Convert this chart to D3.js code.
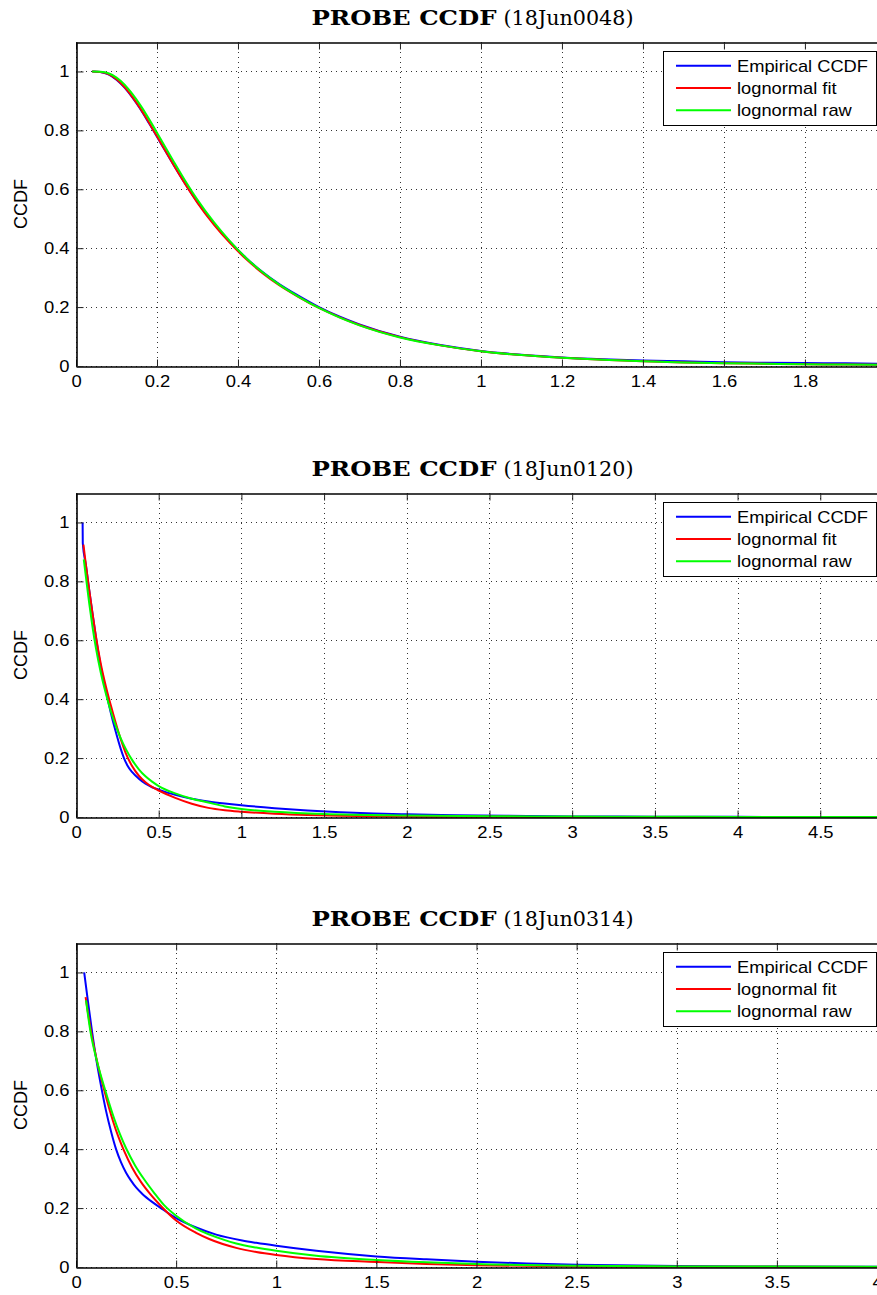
<!DOCTYPE html>
<html><head><meta charset="utf-8">
<script src="https://cdn.jsdelivr.net/npm/d3@7"></script>
<style>body{margin:0;background:#fff}svg{display:block}</style>
</head><body>
<svg id="c" width="877" height="1295"></svg>
<script>
// ---------- DATA ----------
const titlesBold = ["PROBE CCDF", "PROBE CCDF", "PROBE CCDF"];
const titlesRest = ["(18Jun0048)", "(18Jun0120)", "(18Jun0314)"];
const seriesNames = ["Empirical CCDF", "lognormal fit", "lognormal raw"];
const seriesColors = ["#0000ff", "#ff0000", "#00ff00"];
const yLabel = "CCDF";
const yTicks = [0, 0.2, 0.4, 0.6, 0.8, 1];
const yMax = 1.1;

const xMax1 = 1.978;
const xTicks1 = [0, 0.2, 0.4, 0.6, 0.8, 1, 1.2, 1.4, 1.6, 1.8];
const x1 = [0.04,0.06,0.08,0.10,0.12,0.14,0.16,0.18,0.21,0.24,0.27,0.30,0.34,0.38,0.42,0.46,0.50,0.55,0.60,0.65,0.70,0.80,0.90,1.00,1.10,1.20,1.30,1.40,1.50,1.60,1.70,1.80,1.90,1.978];
const blue1 = [1.0,0.998,0.99,0.972,0.945,0.91,0.87,0.825,0.755,0.685,0.618,0.556,0.484,0.422,0.367,0.32,0.28,0.238,0.2,0.168,0.141,0.099,0.071,0.051,0.038,0.029,0.023,0.019,0.016,0.013,0.011,0.010,0.009,0.008];
const red1 = [1.0,0.998,0.991,0.974,0.947,0.912,0.872,0.827,0.756,0.685,0.617,0.554,0.481,0.418,0.363,0.316,0.276,0.234,0.197,0.166,0.139,0.098,0.07,0.05,0.037,0.028,0.021,0.016,0.012,0.0095,0.0075,0.006,0.005,0.004];
const green1 = [1.0,0.999,0.994,0.979,0.955,0.922,0.883,0.839,0.768,0.697,0.628,0.564,0.489,0.424,0.367,0.319,0.278,0.235,0.197,0.165,0.138,0.097,0.07,0.05,0.037,0.028,0.021,0.016,0.012,0.0095,0.0075,0.006,0.005,0.004];

const xMax2 = 4.843;
const xTicks2 = [0, 0.5, 1, 1.5, 2, 2.5, 3, 3.5, 4, 4.5];
const x2b = [0.04,0.041,0.06,0.08,0.10,0.12,0.15,0.18,0.21,0.24,0.27,0.29,0.31,0.34,0.38,0.42,0.46,0.50,0.60,0.70,0.80,0.90,1.0,1.2,1.4,1.6,1.8,2.0,2.3,2.6,3.0,3.5,4.0,4.843];
const blue2 = [1.0,0.93,0.855,0.77,0.69,0.612,0.51,0.43,0.355,0.29,0.232,0.20,0.176,0.152,0.13,0.113,0.101,0.093,0.075,0.062,0.053,0.046,0.040,0.030,0.022,0.016,0.012,0.009,0.006,0.004,0.002,0.001,0.0005,0.0001];
const x2r = [0.045,0.06,0.08,0.10,0.12,0.15,0.18,0.21,0.24,0.27,0.30,0.34,0.38,0.42,0.46,0.50,0.60,0.70,0.80,0.90,1.0,1.2,1.4,1.6,1.8,2.0,2.5,3.0,4.0,4.843];
const red2 = [0.925,0.855,0.77,0.69,0.615,0.52,0.445,0.38,0.32,0.265,0.218,0.172,0.14,0.118,0.102,0.09,0.065,0.045,0.031,0.023,0.018,0.011,0.0065,0.004,0.0025,0.0016,0.0006,0.0002,0.00005,0];
const x2g = [0.047,0.06,0.08,0.10,0.12,0.15,0.18,0.21,0.24,0.27,0.30,0.34,0.38,0.42,0.46,0.50,0.60,0.70,0.80,0.90,1.0,1.2,1.5,2.0,2.5,3.0,3.5,4.0,4.843];
const green2 = [0.875,0.815,0.725,0.645,0.575,0.49,0.42,0.36,0.31,0.268,0.232,0.193,0.162,0.138,0.12,0.105,0.08,0.062,0.049,0.036,0.027,0.018,0.010,0.005,0.0025,0.0013,0.0007,0.0004,0.0001];

const xMax3 = 4.0;
const xTicks3 = [0, 0.5, 1, 1.5, 2, 2.5, 3, 3.5, 4];
const x3b = [0.041,0.06,0.08,0.10,0.125,0.15,0.175,0.20,0.225,0.25,0.274,0.30,0.33,0.38,0.424,0.50,0.60,0.70,0.83,0.90,1.0,1.2,1.5,1.75,2.0,2.25,2.5,3.0,3.5,4.0];
const blue3 = [1.0,0.90,0.80,0.71,0.615,0.53,0.46,0.40,0.355,0.32,0.294,0.27,0.249,0.221,0.20,0.166,0.134,0.11,0.09,0.082,0.072,0.055,0.036,0.026,0.018,0.012,0.008,0.003,0.0015,0.0005];
const x3r = [0.048,0.075,0.108,0.141,0.185,0.21,0.238,0.28,0.325,0.37,0.43,0.50,0.60,0.665,0.80,0.90,1.0,1.2,1.5,1.75,2.0,2.5,3.0,4.0];
const red3 = [0.916,0.80,0.69,0.60,0.495,0.445,0.398,0.338,0.288,0.248,0.203,0.158,0.116,0.095,0.065,0.051,0.041,0.027,0.017,0.010,0.006,0.002,0.001,0.0002];
const x3g = [0.05,0.072,0.108,0.146,0.19,0.22,0.25,0.295,0.341,0.39,0.44,0.50,0.60,0.74,0.80,0.90,1.0,1.2,1.5,1.75,2.0,2.5,3.0,4.0];
const green3 = [0.905,0.80,0.69,0.60,0.505,0.45,0.403,0.345,0.297,0.252,0.21,0.174,0.13,0.092,0.08,0.066,0.055,0.038,0.024,0.016,0.010,0.004,0.002,0.0005];

// ---------- BUILD ----------
const panels = [
  {bold: titlesBold[0], rest: titlesRest[0], xMax: xMax1, xTicks: xTicks1,
   series: [[x1, blue1], [x1, red1], [x1, green1]]},
  {bold: titlesBold[1], rest: titlesRest[1], xMax: xMax2, xTicks: xTicks2,
   series: [[x2b, blue2], [x2r, red2], [x2g, green2]]},
  {bold: titlesBold[2], rest: titlesRest[2], xMax: xMax3, xTicks: xTicks3,
   series: [[x3b, blue3], [x3r, red3], [x3g, green3]]}
];

const svg = d3.select("#c");
const L = 76, R = 877, axH = 324;
const tops = [42, 493, 943];
const sans = "'Liberation Sans', Arial, Helvetica, sans-serif";
const serif = "'DejaVu Serif', serif";

function stretch(sel, k) {
  sel.each(function() {
    const w = this.getComputedTextLength();
    d3.select(this).attr("textLength", w * k).attr("lengthAdjust", "spacingAndGlyphs");
  });
}

panels.forEach((p, i) => {
  const top = tops[i], bot = top + axH;
  const x = d3.scaleLinear().domain([0, p.xMax]).range([L, R]);
  const y = d3.scaleLinear().domain([0, yMax]).range([bot, top]);
  const g = svg.append("g");

  // grid
  const grid = g.append("g").attr("stroke", "#333").attr("stroke-width", 1).attr("stroke-dasharray", "1,4");
  p.xTicks.forEach(t => {
    const xx = Math.round(x(t)) + 0.5;
    grid.append("line").attr("x1", xx).attr("x2", xx).attr("y1", top).attr("y2", bot);
  });
  yTicks.forEach(t => {
    const yy = Math.round(y(t)) + 0.5;
    grid.append("line").attr("x1", L).attr("x2", R).attr("y1", yy).attr("y2", yy);
  });

  // clip
  const cid = "clip" + i;
  g.append("clipPath").attr("id", cid).append("rect")
    .attr("x", L).attr("y", top).attr("width", R - L + 5).attr("height", axH + 2);

  // curves
  const line = d3.line().curve(d3.curveMonotoneX).x(d => x(d[0])).y(d => y(d[1]));
  const cg = g.append("g").attr("clip-path", `url(#${cid})`);
  p.series.forEach((s, k) => {
    const pts = s[0].map((xv, j) => [xv, s[1][j]]);
    cg.append("path").datum(pts).attr("d", line)
      .attr("fill", "none").attr("stroke", seriesColors[k]).attr("stroke-width", 2)
      .attr("stroke-linejoin", "round");
  });

  // axes
  const ax = d3.axisBottom(x).tickValues(p.xTicks).tickFormat(d => String(d))
    .tickSizeInner(-7).tickSizeOuter(0).tickPadding(9);
  const axG = g.append("g").attr("transform", `translate(0,${bot + 0.5})`).call(ax);
  const axT = d3.axisTop(x).tickValues(p.xTicks).tickFormat("")
    .tickSizeInner(-7).tickSizeOuter(0);
  const axTG = g.append("g").attr("transform", `translate(0,${top + 0.5})`).call(axT);
  const ay = d3.axisLeft(y).tickValues(yTicks).tickFormat(d => String(d))
    .tickSizeInner(-7).tickSizeOuter(0).tickPadding(7);
  const ayG = g.append("g").attr("transform", `translate(${L + 0.5},0)`).call(ay);
  [axG, axTG, ayG].forEach(a => {
    a.selectAll(".domain").attr("stroke", "#000").attr("stroke-width", 1.6);
    a.selectAll(".tick line").attr("stroke", "#222").attr("stroke-width", 1);
    a.selectAll("text").attr("font-family", sans).attr("font-size", 16).attr("fill", "#000");
  });
  stretch(axG.selectAll("text"), 1.15);
  stretch(ayG.selectAll("text"), 1.15);

  // y label
  g.append("text").attr("transform", `translate(${27},${(top + bot) / 2}) rotate(-90)`)
    .attr("text-anchor", "middle").attr("font-family", sans).attr("font-size", 18)
    .text(yLabel);

  // title (bold part + regular part)
  const cx = (L + R) / 2;
  g.append("text").attr("x", cx - 165).attr("y", top - 17)
    .attr("font-family", serif).attr("font-size", 20).attr("font-weight", "bold")
    .attr("textLength", 185).attr("lengthAdjust", "spacingAndGlyphs").text(p.bold);
  g.append("text").attr("x", cx + 27).attr("y", top - 17)
    .attr("font-family", serif).attr("font-size", 20)
    .attr("textLength", 130).attr("lengthAdjust", "spacingAndGlyphs").text(p.rest);

  // legend
  const lx = 663, ly = top + 9, lw = 213, lh = 74;
  const lg = g.append("g");
  lg.append("rect").attr("x", lx + 0.5).attr("y", ly + 0.5).attr("width", lw).attr("height", lh)
    .attr("fill", "#fff").attr("stroke", "#000").attr("stroke-width", 1);
  seriesNames.forEach((n, k) => {
    const yy = ly + 14.7 + k * 22.3;
    lg.append("line").attr("x1", lx + 13).attr("x2", lx + 68).attr("y1", yy).attr("y2", yy)
      .attr("stroke", seriesColors[k]).attr("stroke-width", 2);
    const tx = lg.append("text").attr("x", lx + 74).attr("y", yy).attr("dy", "0.36em")
      .attr("font-family", sans).attr("font-size", 17).text(n);
    stretch(tx, 1.075);
  });
});
</script>
</body></html>
